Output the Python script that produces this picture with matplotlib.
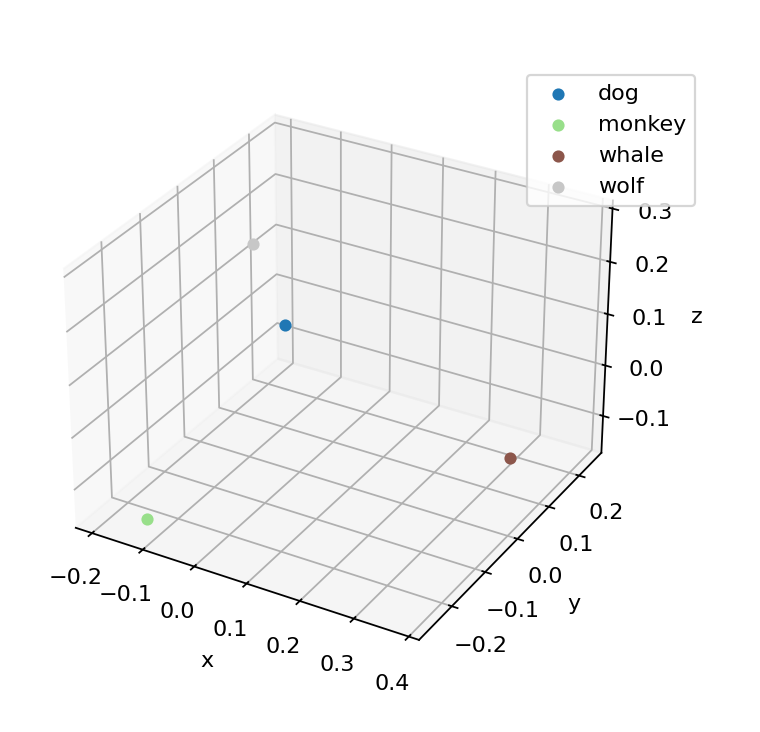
import numpy as np
import matplotlib
matplotlib.use("Agg")
import matplotlib.pyplot as plt

# words and their 3-d coordinates
words = ["dog", "monkey", "whale", "wolf"]
xs = [-0.191, -0.118, 0.377, -0.047]
ys = [0.239, -0.259, 0.040, -0.057]
zs = [-0.072, -0.143, -0.054, 0.284]

cmap = plt.get_cmap("tab20")
colors = [cmap(i * 5) for i in range(len(words))]

DPI = 160
fig = plt.figure(figsize=(760 / DPI, 732 / DPI), dpi=DPI)
ax = fig.add_axes([0.039, 0.073, 0.804, 0.835], projection="3d")

for w, x, y, z, c in zip(words, xs, ys, zs, colors):
    ax.scatter(x, y, z, color=c, label=w, depthshade=False)

ax.set_xlabel("x")
ax.set_ylabel("y")
ax.set_zlabel("z")
ax.legend(loc="upper right", bbox_to_anchor=(0.9145, 0.8975),
          bbox_transform=fig.transFigure, borderaxespad=0)

fig.savefig("out.png", dpi=DPI)
